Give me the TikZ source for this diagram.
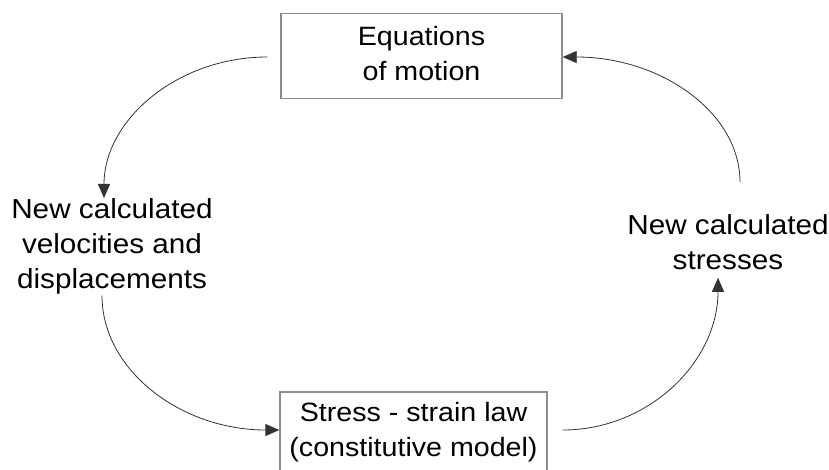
\documentclass[tikz,border=0pt]{standalone}
\usepackage{fontspec}
\setmainfont{Liberation Sans}[FakeStretch=1.08]
\usetikzlibrary{arrows.meta,calc}
\begin{document}
\begin{tikzpicture}[x=1pt,y=-1pt,
  lbl/.style={align=center,inner sep=0pt,font=\fontsize{27.5}{35}\selectfont,text=black},
  boxnode/.style={inner sep=0pt,font=\fontsize{26.5}{35}\selectfont,text=black,draw=black!45,line width=1.3pt},
  flow/.style={draw=black!80,line width=0.8pt,-{Triangle[length=14pt,width=12pt]}}]
\useasboundingbox (0,0) rectangle (829,469);
\clip (0,0) rectangle (829,469);
\fill[white] (0,0) rectangle (829,469);

\node[boxnode,minimum width=281pt,minimum height=85pt] (eq) at (421.5,56)
  {\begin{tabular}{@{}c@{}}Equations\\of motion\end{tabular}\hspace{3pt}};
\node[boxnode,minimum width=267pt,minimum height=80pt] (law) at (413.5,432)
  {\begin{tabular}{@{}c@{}}Stress - strain law\\(constitutive model)\end{tabular}\hspace{14pt}};
\node[lbl] (vel) at (112,246) {New calculated\\velocities and\\displacements};
\node[lbl] (str) at (728,242) {New calculated\\stresses};

\draw[flow] ($(eq.west)+(-13,1)$) .. controls +(-90,0) and +(0,-78) .. ($(vel.north)+(-8,0)$);
\draw[flow] ($(vel.south)+(-10,1.5)$) .. controls +(0,75) and +(-98,0) .. ($(law.west)+(0,-2)$);
\draw[flow] ($(law.east)+(15,-2)$) .. controls +(86,0) and +(0,84) .. ($(str.south)+(-10,8)$);
\draw[flow] ($(str.north)+(12,-32)$) .. controls +(0,-70) and +(98,0) .. ($(eq.east)+(0,1)$);
\end{tikzpicture}
\end{document}
